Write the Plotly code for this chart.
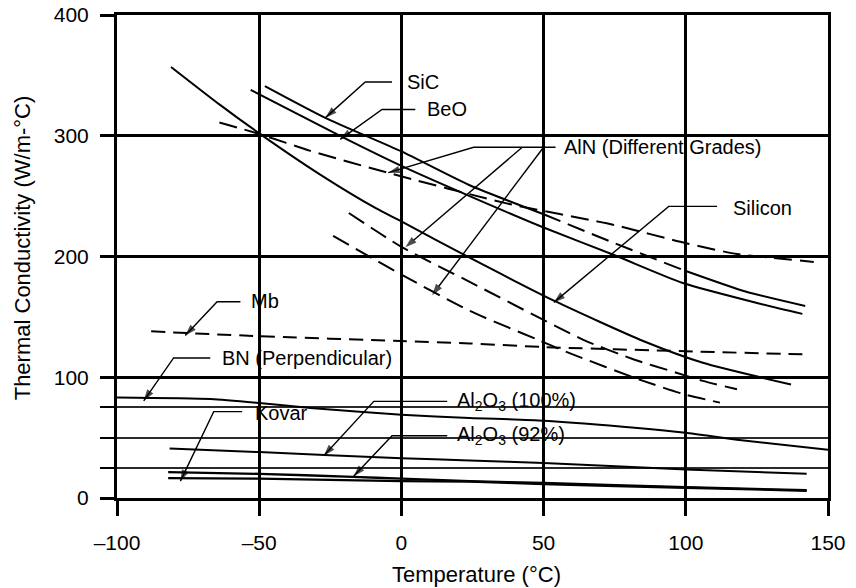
import plotly.graph_objects as go

# Thermal conductivity (W/m-°C) versus temperature (°C) for packaging materials
sic_t = [-48, -27, 0, 24, 50, 75, 100, 121, 142]
sic_k = [341, 315, 287, 259, 235, 211, 188, 171, 159]

beo_t = [-53, -20, 0, 24, 50, 75, 99, 125, 141]
beo_k = [338, 298, 275, 250, 224, 201, 178, 161.5, 152.5]

silicon_t = [-81, -64, -50, -28, -9, 0, 24, 54, 85, 106, 137]
silicon_k = [357, 326, 302, 267, 240, 229, 199, 163, 130, 112, 94]

aln_hi_t = [-64, -50, -32, -5, 37, 75, 100, 118, 130, 145]
aln_hi_k = [311, 301.5, 287.5, 269.5, 244, 226, 211, 202, 199, 195.5]

aln_mid_t = [-18.5, 0, 24, 64, 82, 95, 106, 118]
aln_mid_k = [236, 208, 179, 131, 114.5, 105, 97, 90]

aln_lo_t = [-24, 0, 24, 48, 58, 85, 100, 112]
aln_lo_k = [217, 185, 155, 131, 121, 97, 85.5, 79]

mb_t = [-88, -50, 0, 24, 50, 100, 141]
mb_k = [138, 134, 130, 128, 125, 121.5, 119]

bn_t = [-100, -67, -50, -32, 0, 24, 50, 83, 100, 118, 150]
bn_k = [83.3, 82, 78.7, 74.5, 69, 66.3, 64, 58, 54, 48.3, 40]

al100_t = [-81.5, -50, 0, 24, 50, 100, 142.5]
al100_k = [41, 38, 33, 31, 29, 23.5, 20]

al92_t = [-82, -50, -17, 0, 24, 50, 100, 142.5]
al92_k = [21.5, 20, 17.5, 16, 14, 12.5, 9, 6.5]

kovar_t = [-82, -50, 0, 24, 50, 100, 142.5]
kovar_k = [16.5, 16, 14, 13.5, 11.5, 8.5, 6]

x_ticks = [-100, -50, 0, 50, 100, 150]
x_tick_text = ["\u2013100", "\u201350", "0", "50", "100", "150"]
y_ticks = [0, 100, 200, 300, 400]
y_minor = [25, 50, 75]

FONT = "Liberation Sans, Arial, Helvetica, sans-serif"
INK = "black"
LONG_DASH = "18px,8px"
MB_DASH = "14px,8px"

fig = go.Figure()


def curve(t, k, dash="solid", width=2.0):
    fig.add_trace(go.Scatter(
        x=t, y=k, mode="lines",
        line=dict(color=INK, width=width, dash=dash, shape="spline", smoothing=0.6),
        showlegend=False, hoverinfo="skip",
    ))


# SiC: solid, with a dashed stretch between 50 and 100 °C
i50, i100 = sic_t.index(50), sic_t.index(100)
curve(sic_t[:i50 + 1], sic_k[:i50 + 1])
curve(sic_t[i50:i100 + 1], sic_k[i50:i100 + 1], dash=LONG_DASH)
curve(sic_t[i100:], sic_k[i100:])

curve(beo_t, beo_k)
curve(silicon_t, silicon_k)
curve(aln_hi_t, aln_hi_k, dash=LONG_DASH)
curve(aln_mid_t, aln_mid_k, dash=LONG_DASH)
curve(aln_lo_t, aln_lo_k, dash=LONG_DASH)
curve(mb_t, mb_k, dash=MB_DASH)
curve(bn_t, bn_k)
curve(al100_t, al100_k)
curve(al92_t, al92_k, width=2.3)
curve(kovar_t, kovar_k, width=2.3)

# Callouts: label anchor plus leader polylines (start -> knee -> arrow tip)
callouts = [
    dict(text="SiC", at=(1.4, 344.5),
         leaders=[[(-3.3, 344.5), (-12.7, 344.5), (-26.7, 315)]]),
    dict(text="BeO", at=(8.4, 321.8),
         leaders=[[(4.9, 321.8), (-6.8, 321.8), (-21.5, 297)]]),
    dict(text="AlN (Different Grades)", at=(56.5, 290.5),
         leaders=[[(54.2, 290.5), (25.4, 290.5), (-4.6, 269.4)],
                  [(42.5, 290.5), (1.4, 207.7)],
                  [(50.0, 290.5), (10.8, 168)]]),
    dict(text="Silicon", at=(116.0, 240.5),
         leaders=[[(111.0, 241.5), (94.0, 241.5), (53.6, 162)]]),
    dict(text="Mb", at=(-53.7, 163.5),
         leaders=[[(-56.6, 162.5), (-64.8, 162.5), (-76.0, 134.5)]]),
    dict(text="BN (Perpendicular)", at=(-63.9, 116.0),
         leaders=[[(-67.2, 116.0), (-80.1, 116.0), (-90.6, 80.5)]]),
    dict(text="Kovar", at=(-52.2, 70.8),
         leaders=[[(-56.0, 71.5), (-66.0, 71.5), (-77.7, 14.0)]]),
    dict(text="Al<sub>2</sub>O<sub>3</sub> (100%)", at=(19.0, 80.0),
         leaders=[[(16.1, 80.0), (-9.7, 80.0), (-27.3, 35.0)]]),
    dict(text="Al<sub>2</sub>O<sub>3</sub> (92%)", at=(19.0, 51.4),
         leaders=[[(16.1, 51.6), (-3.3, 51.6), (-16.8, 18.0)]]),
]

annotations = []
for c in callouts:
    tx, ty = c["at"]
    annotations.append(dict(
        x=tx, y=ty, xref="x", yref="y", text=c["text"], showarrow=False,
        xanchor="left", yanchor="middle",
        font=dict(family=FONT, size=20, color=INK),
    ))
    for path in c["leaders"]:
        xs = [p[0] for p in path]
        ys = [p[1] for p in path]
        n = len(path)
        fig.add_trace(go.Scatter(
            x=xs, y=ys, mode="lines+markers",
            line=dict(color=INK, width=1.4),
            marker=dict(symbol=["circle"] * (n - 1) + ["arrow"],
                        size=[0] * (n - 1) + [12],
                        angleref="previous", color=INK,
                        line=dict(width=0)),
            showlegend=False, hoverinfo="skip",
        ))

# Axis titles
annotations.append(dict(
    x=0.505, y=-0.159, xref="paper", yref="paper",
    text="Temperature (\u00b0C)", showarrow=False,
    xanchor="center", yanchor="middle",
    font=dict(family=FONT, size=22, color=INK),
))
annotations.append(dict(
    x=-0.1336, y=0.517, xref="paper", yref="paper",
    text="Thermal Conductivity (W/m-\u00b0C)", showarrow=False, textangle=-90,
    xanchor="center", yanchor="middle",
    font=dict(family=FONT, size=22, color=INK),
))

fig.update_layout(
    width=856, height=588,
    margin=dict(l=117, r=28, t=15, b=90, autoexpand=False),
    paper_bgcolor="white", plot_bgcolor="white",
    font=dict(family=FONT, size=21, color=INK),
    annotations=annotations,
    showlegend=False,
)

fig.update_xaxes(
    range=[-100, 150], automargin=False,
    tickmode="array", tickvals=x_ticks, ticktext=x_tick_text,
    ticks="outside", ticklen=15, tickwidth=2.5, tickcolor=INK,
    ticklabelstandoff=9,
    showline=True, linewidth=3, linecolor=INK, mirror=True,
    showgrid=True, gridcolor=INK, gridwidth=3, zeroline=False,
    tickfont=dict(family=FONT, size=21, color=INK),
)

fig.update_yaxes(
    range=[0, 400], automargin=False,
    tickmode="array", tickvals=y_ticks,
    ticks="outside", ticklen=14, tickwidth=2.5, tickcolor=INK,
    ticklabelstandoff=7,
    showline=True, linewidth=3, linecolor=INK, mirror=True,
    showgrid=True, gridcolor=INK, gridwidth=3, zeroline=False,
    minor=dict(tickvals=y_minor, ticks="outside", ticklen=14, tickwidth=2,
               tickcolor=INK, showgrid=True, gridcolor="#2a2a2a", gridwidth=1.6),
    tickfont=dict(family=FONT, size=21, color=INK),
)

fig.write_html("out.html")
